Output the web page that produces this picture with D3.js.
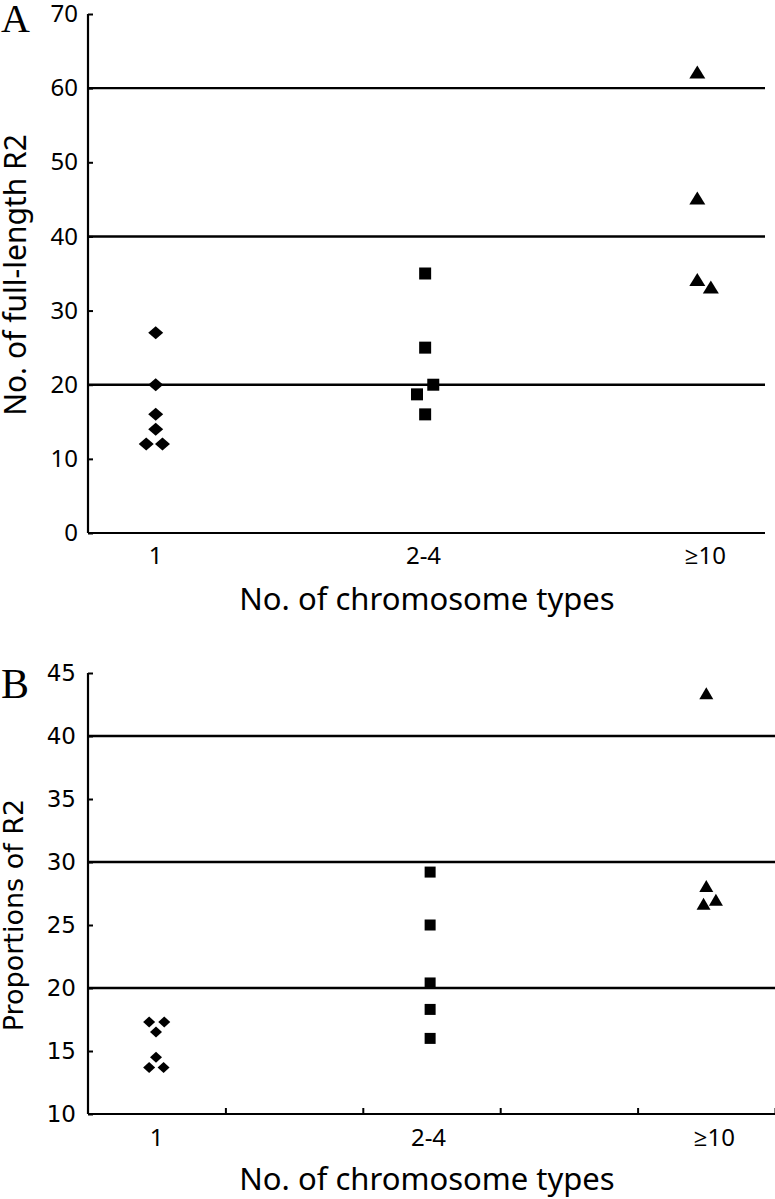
<!DOCTYPE html>
<html>
<head>
<meta charset="utf-8">
<script src="https://cdn.jsdelivr.net/npm/d3@7"></script>
<style>
  html, body { margin: 0; padding: 0; background: #fff; }
  svg { display: block; }
</style>
</head>
<body>
<svg id="chart" width="775" height="1199"></svg>
<script>
// ---------- data ----------
const categories = ["1", "2-4", "\u226510"];
const categoryPos = [0.5, 2.5, 4.5];

// Panel A: No. of full-length R2
const aTicks = [0, 10, 20, 30, 40, 50, 60, 70];
const aGrid = [20, 40, 60];
const aDiamondY = [27, 20, 16, 14, 12, 12];
const aDiamondX = [0.50, 0.50, 0.50, 0.50, 0.43, 0.55];
const aSquareY = [35, 25, 20, 18.7, 16];
const aSquareX = [2.49, 2.49, 2.55, 2.43, 2.49];
const aTriangleY = [62, 45, 34, 33];
const aTriangleX = [4.50, 4.50, 4.50, 4.60];

// Panel B: Proportions of R2
const bTicks = [10, 15, 20, 25, 30, 35, 40, 45];
const bGrid = [20, 30, 40];
const bXTicks = [1, 2, 3, 4, 5];
const bDiamondY = [17.3, 17.3, 16.5, 14.5, 13.7, 13.7];
const bDiamondX = [0.445, 0.555, 0.495, 0.495, 0.445, 0.55];
const bSquareY = [29.2, 25, 20.4, 18.3, 16];
const bSquareX = [2.49, 2.49, 2.49, 2.49, 2.49];
const bTriangleY = [43.3, 28, 26.6, 26.9];
const bTriangleX = [4.50, 4.50, 4.48, 4.57];

const xTitle = "No. of chromosome types";

// ---------- drawing ----------
const svg = d3.select("#chart");
const sansA = "'Noto Sans', 'Open Sans', sans-serif";
const sansB = "'DejaVu Sans', Verdana, sans-serif";
const serif = "'Liberation Serif', 'DejaVu Serif', serif";

function diamondPath(w, h) {
  return `M0,${-h/2}L${w/2},0L0,${h/2}L${-w/2},0Z`;
}
function squarePath(s) {
  return `M${-s/2},${-s/2}h${s}v${s}h${-s}Z`;
}
function trianglePath(w, h) {
  return `M0,${-h*0.6}L${w/2},${h*0.4}L${-w/2},${h*0.4}Z`;
}

function drawPanel(cfg) {
  const g = svg.append("g");
  const x = d3.scaleLinear().domain([0, 5]).range([cfg.left, cfg.right]);
  const y = d3.scaleLinear().domain(cfg.yDomain).range([cfg.bottom, cfg.top]);

  // gridlines
  g.selectAll("line.grid").data(cfg.grid).join("line")
    .attr("x1", cfg.left).attr("x2", cfg.right)
    .attr("y1", d => y(d)).attr("y2", d => y(d))
    .attr("stroke", "#000").attr("stroke-width", 2.4);

  // y axis (ticks inward)
  const yAxis = d3.axisLeft(y).tickValues(cfg.yTicks).tickSize(-5).tickPadding(cfg.yTickPad).tickFormat(d3.format("d"));
  const ya = g.append("g").attr("transform", `translate(${cfg.left},0)`).call(yAxis);
  ya.select(".domain").attr("stroke", "#000").attr("stroke-width", 2.2)
    .attr("d", `M0,${cfg.top}V${cfg.bottom}`);
  ya.selectAll(".tick line").attr("stroke", "#000").attr("stroke-width", 2);
  ya.selectAll(".tick text").attr("font-family", cfg.yTickFont).attr("font-size", cfg.yTickSize).attr("fill", "#000");

  // x axis
  const xAxis = d3.axisBottom(x).tickValues(cfg.xTicks).tickSize(-6).tickFormat("");
  const xa = g.append("g").attr("transform", `translate(0,${cfg.bottom})`).call(xAxis);
  xa.select(".domain").attr("stroke", "#000").attr("stroke-width", 2.2)
    .attr("d", `M${cfg.left},0H${cfg.right}`);
  xa.selectAll(".tick line").attr("stroke", "#000").attr("stroke-width", 2);

  // category labels
  g.selectAll("text.cat").data(categories).join("text")
    .attr("x", (d, i) => x(categoryPos[i]) + (i === 2 ? 8 : (i === 1 ? -3 : 0)))
    .attr("y", cfg.bottom + cfg.catDy)
    .attr("text-anchor", "middle")
    .attr("font-family", sansA).attr("font-size", 24)
    .text(d => d);

  // x title
  g.append("text").attr("x", cfg.xTitleX).attr("y", cfg.bottom + cfg.xTitleDy)
    .attr("text-anchor", "middle")
    .attr("font-family", sansA).attr("font-size", cfg.xTitleSize)
    .text(xTitle);

  // y title
  g.append("text")
    .attr("transform", `translate(${cfg.yTitleX},${cfg.yTitleY}) rotate(-90)`)
    .attr("text-anchor", "middle")
    .attr("font-family", cfg.yTitleFont).attr("font-size", cfg.yTitleSize)
    .text(cfg.yTitle);

  // panel letter
  g.append("text").attr("x", 1).attr("y", cfg.letterY)
    .attr("font-family", serif).attr("font-size", cfg.letterSize)
    .text(cfg.letter);

  // markers
  const pts = (ys, xs) => ys.map((v, i) => ({ x: xs[i], y: v }));
  g.selectAll("path.dia").data(pts(cfg.dY, cfg.dX)).join("path")
    .attr("d", diamondPath(cfg.dW, cfg.dH))
    .attr("transform", d => `translate(${x(d.x)},${y(d.y)})`).attr("fill", "#000");
  g.selectAll("path.sq").data(pts(cfg.sY, cfg.sX)).join("path")
    .attr("d", squarePath(cfg.sS))
    .attr("transform", d => `translate(${x(d.x)},${y(d.y)})`).attr("fill", "#000");
  g.selectAll("path.tri").data(pts(cfg.tY, cfg.tX)).join("path")
    .attr("d", trianglePath(cfg.tW, cfg.tH))
    .attr("transform", d => `translate(${x(d.x)},${y(d.y)})`).attr("fill", "#000");
}

drawPanel({
  left: 88, right: 765, top: 14, bottom: 533,
  yDomain: [0, 70], yTicks: aTicks, grid: aGrid, xTicks: [],
  yTickFont: sansA, yTickSize: 24, yTickPad: 10,
  catDy: 31, xTitleX: 427, xTitleDy: 77, xTitleSize: 31,
  yTitle: "No. of full-length R2", yTitleFont: sansA, yTitleSize: 30, yTitleX: 26, yTitleY: 275,
  letter: "A", letterY: 32, letterSize: 40,
  dY: aDiamondY, dX: aDiamondX, dW: 15, dH: 13,
  sY: aSquareY, sX: aSquareX, sS: 12,
  tY: aTriangleY, tX: aTriangleX, tW: 16, tH: 13
});

drawPanel({
  left: 88, right: 775, top: 673, bottom: 1114,
  yDomain: [10, 45], yTicks: bTicks, grid: bGrid, xTicks: bXTicks,
  yTickFont: sansB, yTickSize: 23, yTickPad: 12,
  catDy: 32, xTitleX: 427, xTitleDy: 76, xTitleSize: 31,
  yTitle: "Proportions of R2", yTitleFont: sansB, yTitleSize: 27, yTitleX: 23, yTitleY: 915,
  letter: "B", letterY: 698, letterSize: 42,
  dY: bDiamondY, dX: bDiamondX, dW: 12, dH: 11,
  sY: bSquareY, sX: bSquareX, sS: 11,
  tY: bTriangleY, tX: bTriangleX, tW: 14, tH: 12
});
</script>
</body>
</html>
